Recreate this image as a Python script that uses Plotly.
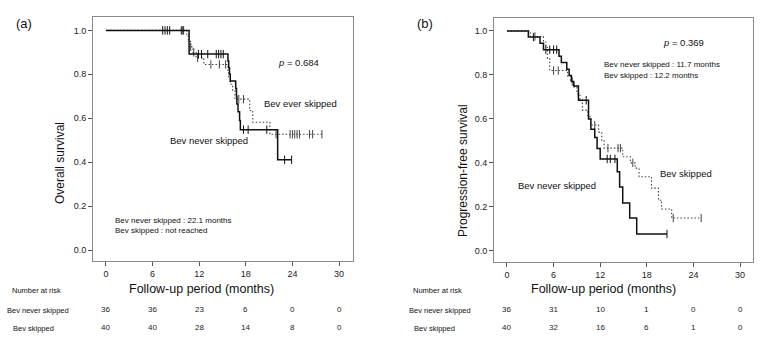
import plotly.graph_objects as go

W, H = 765, 347

# ---------------- Data ----------------
# Panel (a) Overall survival
a_never_t = [10.7, 15.7, 15.8, 15.9, 16.0, 16.7, 16.8, 16.85, 17.0, 17.2, 17.3, 22.1]
a_never_s = [0.892, 0.861, 0.830, 0.800, 0.770, 0.735, 0.700, 0.665, 0.630, 0.590, 0.548, 0.411]
a_never_c = [7.3, 7.6, 7.9, 8.2, 9.7, 9.9, 11.9, 12.3, 13.1, 14.2, 14.5, 14.8, 15.1, 17.7, 18.3, 20.7, 23.0, 23.9]

a_skip_t = [10.4, 10.6, 10.9, 11.2, 11.6, 12.6, 15.7, 15.8, 16.0, 16.3, 16.6, 18.5, 18.9, 21.1]
a_skip_s = [0.975, 0.950, 0.925, 0.900, 0.875, 0.845, 0.815, 0.785, 0.755, 0.725, 0.687, 0.635, 0.582, 0.527]
a_skip_c = [10.0, 10.9, 11.3, 11.8, 13.5, 14.6, 15.4, 17.1, 17.7, 21.9,
            23.7, 24.0, 24.3, 24.6, 24.9, 26.2, 26.6, 27.8]

# Panel (b) Progression-free survival
b_never_t = [2.75, 4.25, 4.7, 6.7, 7.0, 7.7, 8.0, 8.3, 8.6, 9.2, 10.5, 10.8, 11.3, 11.6, 12.0,
             14.2, 14.5, 14.9, 15.8, 16.7]
b_never_s = [0.972, 0.944, 0.915, 0.885, 0.856, 0.826, 0.797, 0.770, 0.750, 0.685, 0.600, 0.553,
             0.515, 0.465, 0.418, 0.360, 0.290, 0.217, 0.149, 0.076]
b_never_c = [3.4, 5.0, 5.5, 6.0, 6.4, 10.2, 12.9, 13.3, 13.9, 20.6]

b_skip_t = [3.0, 4.7, 5.0, 5.2, 5.5, 7.8, 8.2, 8.6, 9.0, 9.4, 9.7, 10.4, 10.8, 11.8, 12.2, 12.5,
            14.9, 15.9, 16.5, 17.0, 18.6, 19.5, 19.9, 21.2]
b_skip_s = [0.975, 0.950, 0.925, 0.875, 0.820, 0.795, 0.770, 0.745, 0.715, 0.690, 0.640, 0.610,
            0.572, 0.540, 0.500, 0.467, 0.428, 0.400, 0.376, 0.337, 0.285, 0.230, 0.190, 0.149]
b_skip_c = [3.6, 6.0, 6.6, 8.4, 9.2, 11.3, 13.0, 14.3, 14.6, 16.2, 21.4, 25.0]

# Risk tables
risk_times = [0, 6, 12, 18, 24, 30]
a_risk_never = [36, 36, 23, 6, 0, 0]
a_risk_skip = [40, 40, 28, 14, 8, 0]
b_risk_never = [36, 31, 10, 1, 0, 0]
b_risk_skip = [40, 32, 16, 6, 1, 0]

x_ticks = [0, 6, 12, 18, 24, 30]
y_ticks = [0.0, 0.2, 0.4, 0.6, 0.8, 1.0]
y_tick_text = ["0.0", "0.2", "0.4", "0.6", "0.8", "1.0"]

FONT = "Liberation Sans, Arial, sans-serif"
SOLID = "#111111"
DOT = "#444444"
FRAME = "#8a8a8a"


def surv_at(t, times, surv):
    v = 1.0
    for tt, ss in zip(times, surv):
        if tt <= t:
            v = ss
    return v


def add_curve(fig, times, surv, cens, xa, ya, color, dash, width):
    end = max(cens[-1], times[-1])
    xs = [0.0] + list(times) + [end]
    ys = [1.0] + list(surv) + [surv[-1]]
    fig.add_trace(go.Scatter(x=xs, y=ys, mode="lines", line=dict(shape="hv", color=color, dash=dash, width=width),
                             xaxis=xa, yaxis=ya, showlegend=False, hoverinfo="skip"))
    cy = [surv_at(c, times, surv) for c in cens]
    fig.add_trace(go.Scatter(x=cens, y=cy, mode="markers",
                             marker=dict(symbol="line-ns-open", size=6, color=color,
                                         line=dict(color=color, width=1)),
                             xaxis=xa, yaxis=ya, showlegend=False, hoverinfo="skip"))


fig = go.Figure()
add_curve(fig, a_skip_t, a_skip_s, a_skip_c, "x", "y", DOT, "1.5px,2px", 1.1)
add_curve(fig, a_never_t, a_never_s, a_never_c, "x", "y", SOLID, "solid", 1.5)
add_curve(fig, b_skip_t, b_skip_s, b_skip_c, "x2", "y2", DOT, "1.5px,2px", 1.1)
add_curve(fig, b_never_t, b_never_s, b_never_c, "x2", "y2", SOLID, "solid", 1.5)


def px(x):
    return x / W


def py(y):
    return 1 - y / H


ax_common = dict(showline=True, linecolor=FRAME, linewidth=1, mirror=True, ticks="outside", ticklen=4,
                 tickcolor="#555", tickfont=dict(family=FONT, size=9, color="#222"), showgrid=False,
                 zeroline=False)

fig.update_layout(
    width=W, height=H, margin=dict(l=0, r=0, t=0, b=0),
    paper_bgcolor="white", plot_bgcolor="white",
    xaxis=dict(domain=[px(93), px(353)], range=[-1.67, 31.8], tickvals=x_ticks, anchor="y", **ax_common),
    yaxis=dict(domain=[py(261), py(17)], range=[-0.05, 1.061], tickvals=y_ticks, ticktext=y_tick_text,
               anchor="x", **ax_common),
    xaxis2=dict(domain=[px(494), px(753)], range=[-1.67, 31.67], tickvals=x_ticks, anchor="y2", **ax_common),
    yaxis2=dict(domain=[py(262), py(18)], range=[-0.051, 1.059], tickvals=y_ticks, ticktext=y_tick_text,
                anchor="x2", **ax_common),
)

ann = []


def txt(x, y, s, size=9, xanchor="left", angle=0, color="#111"):
    ann.append(dict(x=px(x), y=py(y), xref="paper", yref="paper", text=s, showarrow=False,
                    xanchor=xanchor, yanchor="middle", textangle=angle,
                    font=dict(family=FONT, size=size, color=color)))


# Panel labels
txt(24, 24, "(a)", size=13, xanchor="center")
txt(425, 24, "(b)", size=13, xanchor="center")

# Axis titles
txt(60, 163, "Overall survival", size=12, xanchor="center", angle=-90)
txt(463, 170, "Progression-free survival", size=12, xanchor="center", angle=-90)
txt(201, 289, "Follow-up period (months)", size=12.5, xanchor="center")
txt(603, 289, "Follow-up period (months)", size=12.5, xanchor="center")

# In-plot text panel (a)
txt(298, 63, "<i>p</i> = 0.684", size=9.5, xanchor="center")
txt(262, 103, "Bev ever skipped", size=9.5)
txt(168, 140, "Bev never skipped", size=9.5)
txt(113, 220, "Bev never skipped : 22.1 months", size=8)
txt(113, 230, "Bev skipped : not reached", size=8)

# In-plot text panel (b)
txt(683, 42, "<i>p</i> = 0.369", size=9.5, xanchor="center")
txt(602, 65, "Bev never skipped : 11.7 months", size=8)
txt(602, 75, "Bev skipped : 12.2 months", size=8)
txt(658, 173, "Bev skipped", size=9.5)
txt(516, 185, "Bev never skipped", size=9.5)

# Risk table labels
txt(10, 290, "Number at risk", size=7.5)
txt(411, 290, "Number at risk", size=7.5)
txt(5, 310, "Bev never skipped", size=7.5)
txt(11, 328, "Bev skipped", size=7.5)
txt(407, 310, "Bev never skipped", size=7.5)
txt(412, 328, "Bev skipped", size=7.5)

for xa, never, skip in (("x", a_risk_never, a_risk_skip), ("x2", b_risk_never, b_risk_skip)):
    for t, n1, n2 in zip(risk_times, never, skip):
        for n, yy in ((n1, 309), (n2, 327)):
            ann.append(dict(x=t, y=py(yy), xref=xa, yref="paper", text=str(n), showarrow=False,
                            xanchor="center", yanchor="middle", font=dict(family=FONT, size=8, color="#222")))

fig.update_layout(annotations=ann)
fig.write_html("out.html")
